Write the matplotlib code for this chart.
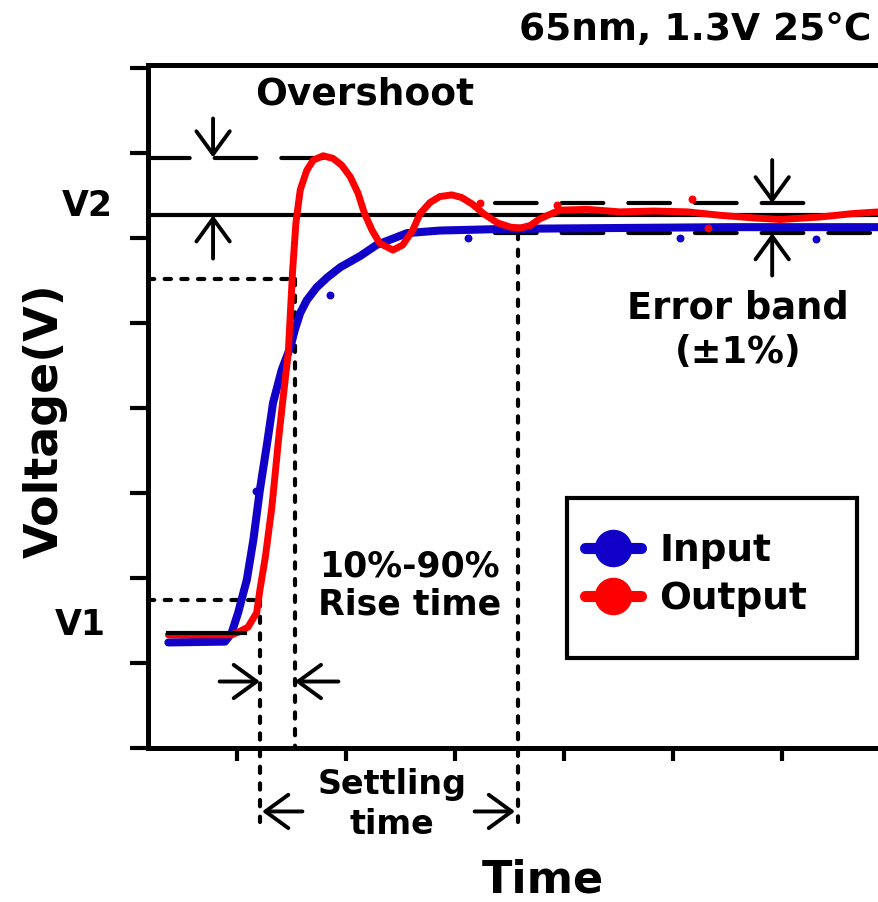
import matplotlib.pyplot as plt
from matplotlib.lines import Line2D
from matplotlib.patches import Rectangle

plt.rcParams['font.family'] = ['DejaVu Sans']
plt.rcParams['font.weight'] = 'bold'

# input / output waveforms (time in tick units, voltage in tick units)
in_t = [0.37, 0.89, 0.95, 1.01, 1.09, 1.15, 1.21, 1.28, 1.33, 1.41, 1.49, 1.53,
        1.58, 1.64, 1.73, 1.83, 1.95, 2.13, 2.28, 2.56, 2.86, 3.48, 4.50, 5.50, 6.90]
in_v = [1.24, 1.25, 1.35, 1.59, 1.98, 2.45, 3.04, 3.62, 4.06, 4.45, 4.72, 4.92,
        5.12, 5.27, 5.42, 5.54, 5.66, 5.79, 5.92, 6.06, 6.09, 6.11, 6.12, 6.13, 6.13]
out_t = [0.37, 0.95, 1.01, 1.10, 1.18, 1.21, 1.26, 1.32, 1.38, 1.42, 1.47, 1.51,
         1.54, 1.58, 1.64, 1.70, 1.79, 1.88, 1.96, 2.04, 2.11, 2.17, 2.24, 2.31,
         2.43, 2.52, 2.61, 2.68, 2.77, 2.86, 2.97, 3.06, 3.16, 3.26, 3.39, 3.51,
         3.60, 3.69, 3.78, 3.96, 4.21, 4.51, 4.82, 5.13, 5.43, 5.73, 5.98, 6.35,
         6.65, 6.89]
out_v = [1.33, 1.33, 1.36, 1.42, 1.59, 1.86, 2.25, 2.84, 3.62, 4.09, 4.65, 5.62,
         6.18, 6.57, 6.80, 6.92, 6.97, 6.94, 6.86, 6.72, 6.53, 6.29, 6.09, 5.94,
         5.86, 5.92, 6.09, 6.29, 6.42, 6.49, 6.51, 6.48, 6.40, 6.29, 6.18, 6.13,
         6.12, 6.15, 6.23, 6.33, 6.34, 6.31, 6.32, 6.31, 6.27, 6.24, 6.22, 6.25,
         6.29, 6.31]

# stray measurement dots
in_dot_t = [1.85, 3.12, 5.06, 6.31, 1.17]
in_dot_v = [5.33, 6.00, 6.00, 5.99, 3.02]
out_dot_t = [3.94, 5.17, 5.32, 3.23]
out_dot_v = [6.39, 6.46, 6.12, 6.41]

# annotation levels
v1 = 1.35
v2 = 6.27
v_peak = 6.95
band_hi = 6.41
band_lo = 6.06
v10 = 1.74
v90 = 5.52
t10 = 1.21
t90 = 1.53
t_settle = 3.58

blue = '#1000c8'
red = '#ff0000'

fig = plt.figure(figsize=(8.79, 9.02), dpi=100)
ax = fig.add_axes([0.168, 0.171, 0.832, 0.757])
ax.set_xlim(0.18, 6.89)
ax.set_ylim(0, 8.04)

ax.plot(in_t, in_v, color=blue, lw=5.8, solid_capstyle='round', solid_joinstyle='round', zorder=3)
ax.plot(out_t, out_v, color=red, lw=5, solid_capstyle='round', solid_joinstyle='round', zorder=4)
ax.scatter(in_dot_t, in_dot_v, s=22, color=blue, zorder=3)
ax.scatter(out_dot_t, out_dot_v, s=22, color=red, zorder=4)

# reference lines
ax.plot([0.37, 1.07], [v1, v1], color='k', lw=3, zorder=5)
ax.axhline(v2, color='k', lw=3, zorder=2)
ax.plot([0.18, 1.81], [v_peak, v_peak], color='k', lw=3, dashes=(10, 6), dash_capstyle='round')
ax.plot([3.37, 6.28], [band_hi, band_hi], color='k', lw=3, dashes=(10, 6), dash_capstyle='round')
ax.plot([3.37, 6.89], [band_lo, band_lo], color='k', lw=3, dashes=(10, 6), dash_capstyle='round')

dot = (0, (1.5, 2.5))
kw = dict(color='k', lw=3, linestyle=dot, dash_capstyle='round')
ax.plot([0.18, t90], [v90, v90], **kw)
ax.plot([t90, t90], [v90, 0], **kw)
ax.plot([0.18, t10], [v10, v10], **kw)
ax.plot([t10, t10], [v10, -0.87], clip_on=False, **kw)
ax.plot([t_settle, t_settle], [band_lo, -0.87], clip_on=False, **kw)


def arrow(x0, y0, x1, y1):
    ax.annotate('', xy=(x1, y1), xytext=(x0, y0), annotation_clip=False,
                arrowprops=dict(arrowstyle='->,head_length=0.55,head_width=0.4',
                                lw=2.8, color='k', mutation_scale=30,
                                shrinkA=0, shrinkB=0))


arrow(0.78, 7.41, 0.78, v_peak)
arrow(0.78, 5.76, 0.78, v2)
arrow(5.91, 6.92, 5.91, band_hi)
arrow(5.91, 5.56, 5.91, band_lo)
arrow(0.84, 0.78, t10, 0.78)
arrow(1.93, 0.78, t90, 0.78)
arrow(1.60, -0.75, 1.23, -0.75)
arrow(3.18, -0.75, 3.55, -0.75)

# axes styling
ax.set_xticks([1, 2, 3, 4, 5, 6])
ax.set_yticks([0, 1, 2, 3, 4, 5, 6, 7, 8])
ax.set_xticklabels([])
ax.set_yticklabels([])
ax.tick_params(axis='y', length=13, width=3)
ax.tick_params(axis='x', length=9, width=3)
ax.spines['right'].set_visible(False)
for s in ['left', 'bottom', 'top']:
    ax.spines[s].set_linewidth(3.6)

# texts
fig.text(0.415, 0.895, 'Overshoot', fontsize=27, ha='center', va='center', weight='bold')
fig.text(0.991, 0.967, '65nm, 1.3V 25°C', fontsize=27, ha='right', va='center', weight='bold')
fig.text(0.099, 0.772, 'V2', fontsize=25, ha='center', va='center', weight='bold')
fig.text(0.091, 0.307, 'V1', fontsize=25, ha='center', va='center', weight='bold')
fig.text(0.840, 0.634, 'Error band\n(±1%)', fontsize=26.5, ha='center', va='center',
         weight='bold', linespacing=1.27)
fig.text(0.466, 0.351, '10%-90%\nRise time', fontsize=25, ha='center', va='center',
         weight='bold', linespacing=1.13)
fig.text(0.446, 0.108, 'Settling\ntime', fontsize=24, ha='center', va='center',
         weight='bold', linespacing=1.25)
fig.text(0.051, 0.534, 'Voltage(V)', fontsize=33, ha='center', va='center',
         rotation=90, weight='bold')
fig.text(0.618, 0.024, 'Time', fontsize=32, ha='center', va='center', weight='bold')

# legend
fig.add_artist(Rectangle((0.645, 0.2705), 0.33, 0.177, transform=fig.transFigure,
                         fill=False, lw=3, edgecolor='k'))
handles = [Line2D([], [], color=blue, lw=8, marker='o', markersize=26, solid_capstyle='round'),
           Line2D([], [], color=red, lw=8, marker='o', markersize=26, solid_capstyle='round')]
fig.legend(handles, ['Input', 'Output'], loc='center left', bbox_to_anchor=(0.665, 0.3625),
           frameon=False, handlelength=1.5, handletextpad=0.5,
           labelspacing=0.3, borderpad=0, borderaxespad=0,
           prop={'weight': 'bold', 'size': 27})

fig.savefig('out.png', dpi=100)
